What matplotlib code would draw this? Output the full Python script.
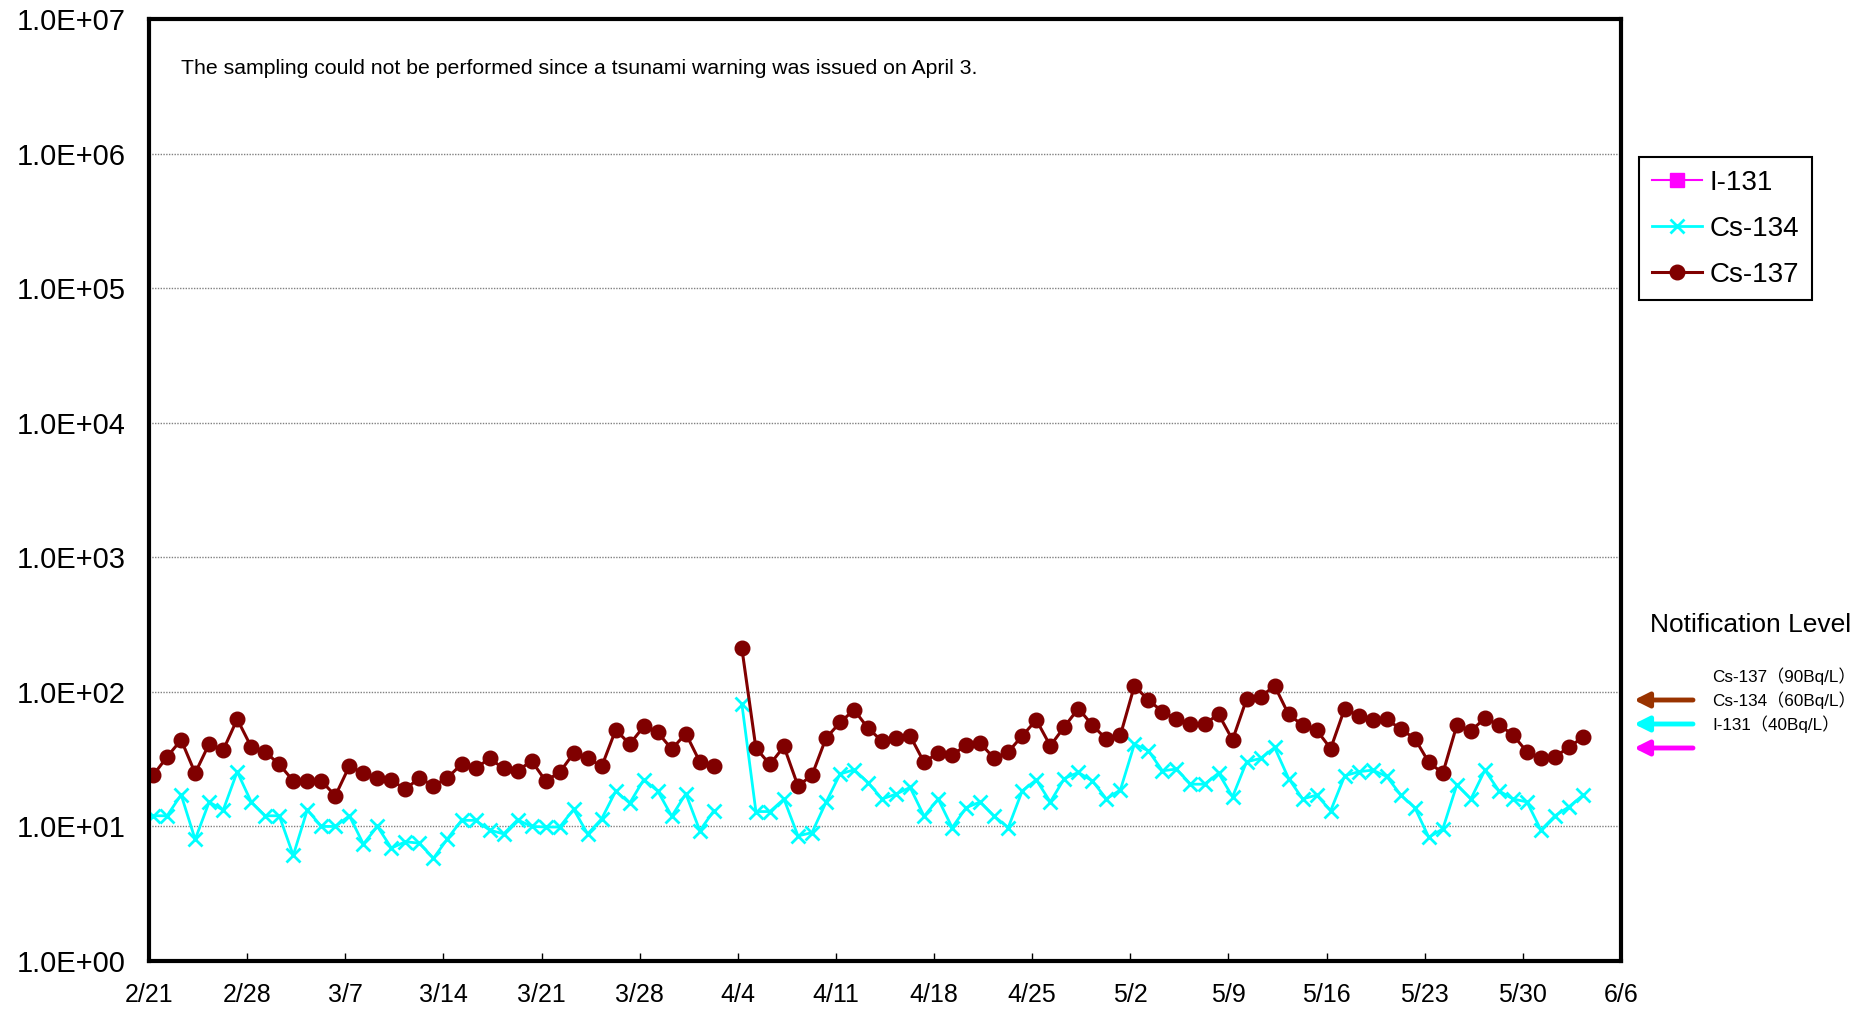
import numpy as np
import pandas as pd
import matplotlib
matplotlib.use('Agg')
import matplotlib.pyplot as plt

plt.rcParams['font.family'] = ['Liberation Sans', 'Noto Sans CJK JP', 'DejaVu Sans']

# daily sea water samples, 2/21 .. 6/3 (4/3 missing: tsunami warning)
start = '2011-02-21'
end = '2011-06-03'

cs134 = [12.0, 12.0, 17.2, 8.0, 15.2, 13.2, 25.5, 15.2, 12.0, 12.0,
         6.1, 13.3, 10.0, 10.0, 12.0, 7.4, 10.0, 6.9, 7.7, 7.5,
         5.8, 8.1, 11.1, 11.1, 9.4, 8.8, 11.2, 10.0, 9.9, 9.9,
         13.4, 8.8, 11.4, 18.3, 14.9, 22.3, 18.3, 11.9, 17.5, 9.3,
         13.1, np.nan, 81.0, 12.9, 12.9, 16.0, 8.5, 9.0, 15.1, 24.5,
         26.4, 21.2, 16.0, 17.4, 19.5, 11.9, 16.0, 9.8, 13.8, 15.2,
         11.9, 9.8, 18.4, 22.2, 15.2, 22.7, 25.2, 21.8, 16.0, 18.7,
         40.9, 36.5, 25.9, 26.7, 20.6, 20.6, 24.9, 16.6, 30.2, 32.0,
         38.6, 22.7, 16.0, 17.1, 13.1, 23.8, 25.5, 26.2, 23.5, 17.1,
         13.8, 8.3, 9.6, 20.4, 16.0, 26.2, 18.4, 16.0, 15.2, 9.4,
         12.0, 14.0, 17.1]

cs137 = [24.0, 32.9, 44.0, 24.9, 41.1, 36.9, 62.7, 39.0, 35.8, 28.9,
         21.8, 21.8, 21.8, 16.9, 28.1, 24.9, 23.0, 22.0, 18.9, 23.0,
         20.0, 23.0, 29.0, 27.0, 32.0, 27.0, 25.9, 30.7, 21.8, 25.2,
         35.0, 32.2, 27.9, 52.2, 40.9, 55.3, 49.9, 37.5, 49.0, 30.2,
         27.9, np.nan, 210.0, 38.2, 28.9, 39.3, 20.0, 24.0, 45.3, 59.2,
         73.5, 53.7, 43.0, 45.3, 47.1, 29.9, 35.4, 33.9, 40.2, 41.6,
         32.0, 35.8, 47.1, 61.9, 39.7, 55.0, 75.2, 56.6, 44.5, 47.7,
         110.9, 86.7, 71.4, 62.7, 57.5, 57.5, 68.3, 44.0, 88.2, 91.8,
         110.9, 67.9, 56.6, 51.9, 37.9, 75.2, 66.3, 61.9, 62.7, 52.8,
         45.0, 29.9, 24.9, 56.6, 51.3, 63.7, 56.9, 47.9, 35.8, 32.0,
         32.9, 38.8, 46.1]

xtick_labels = ['2/21', '2/28', '3/7', '3/14', '3/21', '3/28', '4/4', '4/11',
                '4/18', '4/25', '5/2', '5/9', '5/16', '5/23', '5/30', '6/6']
yticks = [1e0, 1e1, 1e2, 1e3, 1e4, 1e5, 1e6, 1e7]

notif_labels = ['Cs-137（90Bq/L）', 'Cs-134（60Bq/L）', 'I-131（40Bq/L）']
arrow_colors = ['#993300', '#00FFFF', '#FF00FF']

dates = pd.date_range(start, end, freq='D') + pd.Timedelta(hours=7)
x0 = pd.Timestamp(start)
xday = (dates - x0).days + (dates - x0).seconds / 86400.0

W, H = 1869, 1013
fig = plt.figure(figsize=(W / 100, H / 100), dpi=100)
ax = fig.add_axes([149 / W, 1 - 961 / H, (1621 - 149) / W, (961 - 19) / H])

ax.plot([], [], color='#FF00FF', lw=1.5, marker='s', ms=10, label='I-131')
ax.plot(xday, cs134, color='#00FFFF', lw=2, marker='x', ms=10, mew=2, label='Cs-134')
ax.plot(xday, cs137, color='#800000', lw=2.2, marker='o', ms=10.5, label='Cs-137')

ax.set_yscale('log')
ax.set_ylim(1e0, 1e7)
ax.set_yticks(yticks)
ax.set_yticklabels([f'{v:.1E}' for v in yticks])
ax.yaxis.set_minor_locator(matplotlib.ticker.NullLocator())

ax.set_xlim(0, 7 * (len(xtick_labels) - 1))
ax.set_xticks(np.arange(len(xtick_labels)) * 7)
ax.set_xticklabels(xtick_labels)

ax.yaxis.grid(True, color='#808080', ls=(0, (1, 1)), lw=1)
for s in ax.spines.values():
    s.set_linewidth(3)
    s.set_color('black')
ax.tick_params(axis='x', direction='in', length=6, width=1, labelsize=18, pad=16)
ax.tick_params(axis='y', direction='in', length=0, labelsize=21, pad=17)

fig.text(181 / W, 1 - 68 / H,
         'The sampling could not be performed since a tsunami warning was issued on April 3.',
         fontsize=15.3, va='center')

leg = ax.legend(loc='upper left', bbox_to_anchor=(1639 / W, 1 - 157 / H),
                bbox_transform=fig.transFigure, borderaxespad=0, fontsize=20,
                fancybox=False, framealpha=1, edgecolor='black',
                handlelength=1.8, handletextpad=0.3, labelspacing=0.72,
                borderpad=0.45)
leg.get_frame().set_linewidth(1.5)

fig.text(1650 / W, 1 - 625 / H, 'Notification Level', fontsize=19, va='center')
for i, lab in enumerate(notif_labels):
    fig.text(1712 / W, 1 - (676 + 24 * i) / H, lab, fontsize=12.3, va='center')
for i, c in enumerate(arrow_colors):
    y = 1 - (700 + 24 * i) / H
    ax.annotate('', xy=(1634 / W, y), xytext=(1693 / W, y),
                xycoords='figure fraction', textcoords='figure fraction',
                arrowprops=dict(arrowstyle='-|>', color=c, lw=3.5,
                                mutation_scale=22, shrinkA=0, shrinkB=0),
                annotation_clip=False)

fig.savefig('out.png', dpi=100)
